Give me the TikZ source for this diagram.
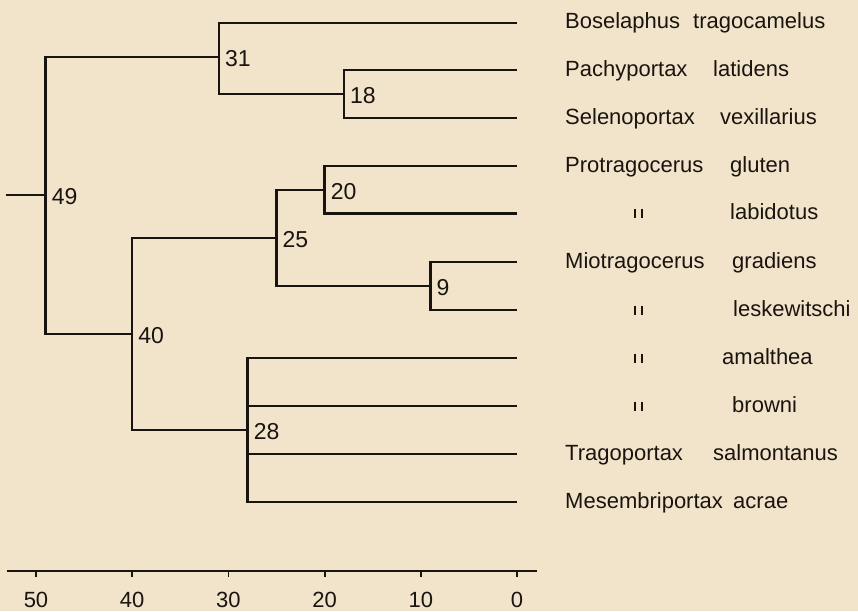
\documentclass[tikz,border=0pt]{standalone}
\usepackage{fontspec}
\setmainfont{Liberation Sans}
\definecolor{paper}{RGB}{242,228,202}
\definecolor{ink}{RGB}{26,20,16}
\begin{document}
\begin{tikzpicture}[x=1pt,y=-1pt,
  branch/.style={draw=ink, line width=2.3pt, line join=miter},
  num/.style={anchor=west, inner sep=0pt, text=ink, xshift=6pt, yshift=-2pt,
              font=\fontsize{23}{23}\selectfont},
  genus/.style={anchor=base west, inner sep=0pt, text=ink, font=\fontsize{22}{22}\selectfont},
  epithet/.style={genus},
  ticklabel/.style={anchor=center, inner sep=0pt, text=ink, font=\fontsize{22}{22}\selectfont},
  ditto/.pic={\draw[ink, line width=2pt] (-3.5,-4.5) -- (-3.5,4.5) (3.5,-4.5) -- (3.5,4.5);}]

\fill[paper] (0,0) rectangle (858,611);
\useasboundingbox (0,0) rectangle (858,611);

% tips of the tree (age 0)
\coordinate (bos) at (517,22.7);
\coordinate (pac) at (517,70);
\coordinate (sel) at (517,118);
\coordinate (glu) at (517,166);
\coordinate (lab) at (517,213.5);
\coordinate (gra) at (517,262);
\coordinate (les) at (517,310);
\coordinate (ama) at (517,358);
\coordinate (bro) at (517,406);
\coordinate (tra) at (517,454);
\coordinate (mes) at (517,502);

% internal nodes, x = 517 - 9.62 * age
\coordinate (n18) at (343.8,94);
\coordinate (n31) at (218.8,57);
\coordinate (n20) at (324.6,190);
\coordinate (n9)  at (430.4,286);
\coordinate (n25) at (276.5,238);
\coordinate (n28) at (247.6,430);
\coordinate (n40) at (132.2,334);
\coordinate (n49) at (45.6,195);
\coordinate (root) at (6,195);

% branches
\draw[branch] (n18) |- (pac);
\draw[branch] (n18) |- (sel);
\draw[branch] (n31) |- (bos);
\draw[branch] (n31) |- (n18);
\draw[branch] (n20) |- (glu);
\draw[branch] (n20) |- (lab);
\draw[branch] (n9) |- (gra);
\draw[branch] (n9) |- (les);
\draw[branch] (n25) |- (n20);
\draw[branch] (n25) |- (n9);
\draw[branch] (n28) |- (ama);
\draw[branch] (n28) |- (bro);
\draw[branch] (n28) |- (tra);
\draw[branch] (n28) |- (mes);
\draw[branch] (n40) |- (n25);
\draw[branch] (n40) |- (n28);
\draw[branch] (n49) |- (n31);
\draw[branch] (n49) |- (n40);
\draw[branch] (root) -- (n49);

% node ages
\node[num] (l31) at (n31) {31};
\node[num] (l18) at (n18) {18};
\node[num] (l20) at (n20) {20};
\node[num] (l9)  at (n9)  {9};
\node[num] (l25) at (n25) {25};
\node[num] (l28) at (n28) {28};
\node[num] (l40) at (n40) {40};
\node[num] (l49) at (n49) {49};

% taxon names
\node[genus]   (gbos) at (565,28.7)  {Boselaphus};
\node[epithet] (ebos) at (693,28.7)  {tragocamelus};
\node[genus]   (gpac) at (565,76)    {Pachyportax};
\node[epithet] (epac) at (713,76)    {latidens};
\node[genus]   (gsel) at (565,124)   {Selenoportax};
\node[epithet] (esel) at (720,124)   {vexillarius};
\node[genus]   (gglu) at (565,172)   {Protragocerus};
\node[epithet] (eglu) at (730,172)   {gluten};
\pic at (638,213.5) {ditto};
\node[epithet] (elab) at (730,219.5) {labidotus};
\node[genus]   (ggra) at (565,268)   {Miotragocerus};
\node[epithet] (egra) at (732,268)   {gradiens};
\pic at (638,310) {ditto};
\node[epithet] (eles) at (733,316)   {leskewitschi};
\pic at (638,358) {ditto};
\node[epithet] (eama) at (722,364)   {amalthea};
\pic at (638,406) {ditto};
\node[epithet] (ebro) at (732,412)   {browni};
\node[genus]   (gtra) at (565,460)   {Tragoportax};
\node[epithet] (etra) at (713,460)   {salmontanus};
\node[genus]   (gmes) at (565,508)   {Mesembriportax};
\node[epithet] (emes) at (733,508)   {acrae};

% time axis
\draw[ink, line width=2.4pt] (7,571) -- (537,571);
\foreach \v in {0,10,...,50} {
  \pgfmathsetmacro{\tx}{517-9.62*\v}
  \draw[ink, line width=1.8pt] (\tx,571) -- (\tx,577);
  \node[ticklabel] at (\tx,599.5) {\v};
}
\end{tikzpicture}
\end{document}
